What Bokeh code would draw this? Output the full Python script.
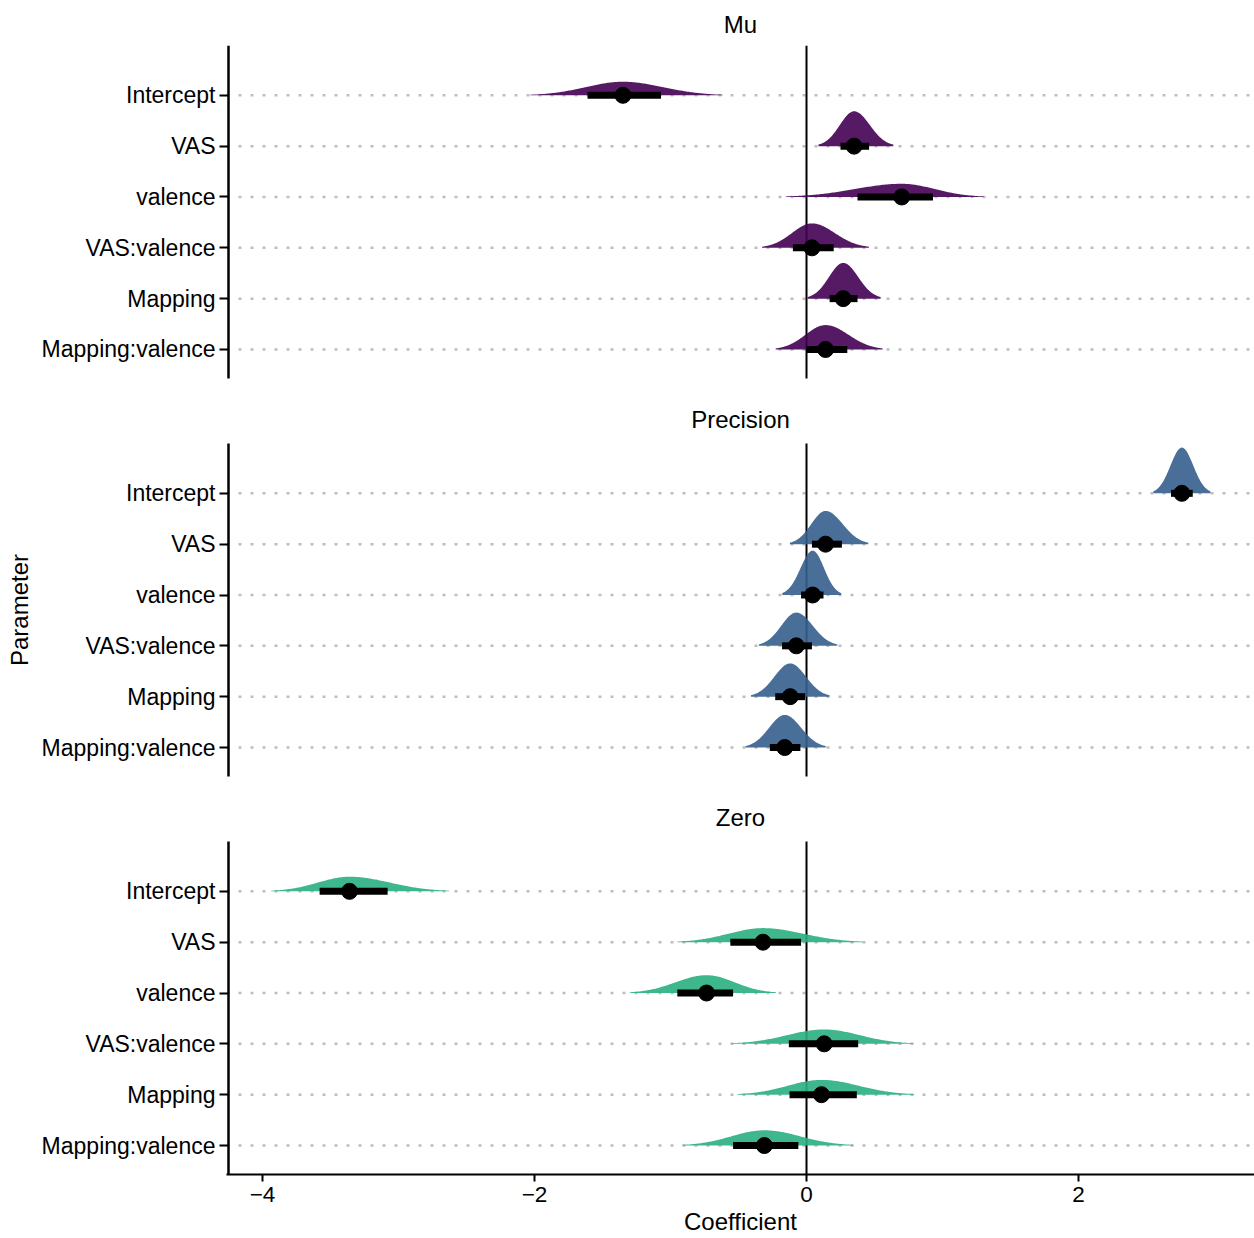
import numpy as np
from bokeh.plotting import figure
from bokeh.models import Range1d, FixedTicker
from bokeh.embed import file_html
from bokeh.resources import INLINE
from bokeh.core.properties import value

# Model components (facets) and regression terms (rows)
components = ["Mu", "Precision", "Zero"]
parameters = ["Intercept", "VAS", "valence", "VAS:valence", "Mapping", "Mapping:valence"]
component_colors = ["#440154", "#355F8D", "#29AF7F"]

# Posterior medians with 66% intervals, one list per component
mu_median = [-1.35, 0.35, 0.70, 0.04, 0.27, 0.14]
mu_lower = [-1.61, 0.25, 0.375, -0.10, 0.17, 0.00]
mu_upper = [-1.07, 0.46, 0.93, 0.20, 0.375, 0.30]

prec_median = [2.76, 0.14, 0.045, -0.075, -0.12, -0.16]
prec_lower = [2.68, 0.04, -0.04, -0.18, -0.23, -0.27]
prec_upper = [2.84, 0.26, 0.125, 0.04, -0.01, -0.045]

zero_median = [-3.36, -0.32, -0.735, 0.13, 0.11, -0.31]
zero_lower = [-3.58, -0.56, -0.95, -0.13, -0.125, -0.54]
zero_upper = [-3.08, -0.04, -0.54, 0.38, 0.37, -0.06]

x_ticks = [-4, -2, 0, 2]

medians = [mu_median, prec_median, zero_median]
lowers = [mu_lower, prec_lower, zero_lower]
uppers = [mu_upper, prec_upper, zero_upper]

# Vertical layout in hundredths of a row
ROW = 100
PANEL = 655
GAP = 128
STEP = PANEL + GAP
TOTAL = 2 * STEP + PANEL
TITLE_OFFSET = 47   # facet title sits this far above its panel

X0, X1 = -4.2647, 3.294
FONT = "Liberation Sans"

p = figure(width=1254, height=1238, output_backend="svg", toolbar_location=None,
           x_range=Range1d(X0, X1), y_range=Range1d(0, TOTAL),
           min_border_left=226, min_border_right=0, min_border_top=45, min_border_bottom=64)
p.outline_line_color = None
p.background_fill_color = "white"
p.border_fill_color = "white"
p.xgrid.visible = False
p.ygrid.visible = False

Z66 = 0.954   # half-width of a 66% normal interval in sd units
TAIL = 2.5    # density drawn out to this many sd either side

rows_y, tick_labels = [], {}
dens_xs, dens_ys, dens_col = [], [], []
bar_x0, bar_x1, bar_y, pt_x, pt_y = [], [], [], [], []
peaks, shapes = [], []

for k, comp in enumerate(components):
    base = (2 - k) * STEP
    for r, name in enumerate(parameters):
        y = base + 57 + ROW * (5 - r)
        rows_y.append(y)
        tick_labels[y] = name
        med, lo, hi = medians[k][r], lowers[k][r], uppers[k][r]
        sd_l = (med - lo) / Z66
        sd_r = (hi - med) / Z66
        peaks.append(2.0 / (sd_l + sd_r))
        shapes.append((y, med, sd_l, sd_r, component_colors[k]))
        bar_x0.append(lo); bar_x1.append(hi); bar_y.append(y)
        pt_x.append(med); pt_y.append(y)

max_peak = max(peaks)
for (y, med, sd_l, sd_r, col), pk in zip(shapes, peaks):
    h = 0.9 * ROW * pk / max_peak
    xl = np.linspace(med - TAIL * sd_l, med, 80)
    xr = np.linspace(med, med + TAIL * sd_r, 80)[1:]
    dl = np.exp(-0.5 * ((xl - med) / sd_l) ** 2)
    dr = np.exp(-0.5 * ((xr - med) / sd_r) ** 2)
    xs = np.concatenate([xl, xr])
    ys = y + h * np.concatenate([dl, dr])
    dens_xs.append(list(xs) + [xs[-1], xs[0]])
    dens_ys.append(list(ys) + [y, y])
    dens_col.append(col)

# dotted guide lines for each term
p.segment(x0=[X0] * len(rows_y), x1=[X1] * len(rows_y), y0=rows_y, y1=rows_y,
          line_color="#BEBEBE", line_width=2.5, line_dash="3 9", line_cap="butt")

# zero reference line and left axis line, one segment per panel
bases = [(2 - k) * STEP for k in range(3)]
p.segment(x0=[0] * 3, x1=[0] * 3, y0=bases, y1=[b + PANEL for b in bases],
          line_color="black", line_width=2)
p.segment(x0=[-4.25] * 3, x1=[-4.25] * 3, y0=bases, y1=[b + PANEL for b in bases],
          line_color="black", line_width=2.5)

# half-eye densities
p.patches(xs=dens_xs, ys=dens_ys, fill_color=dens_col, fill_alpha=0.9, line_color=None)

# 66% intervals and medians
p.segment(x0=bar_x0, x1=bar_x1, y0=bar_y, y1=bar_y, line_color="black",
          line_width=7, line_cap="butt")
p.scatter(x=pt_x, y=pt_y, size=16, color="black")

# facet titles: the top one as the figure title, the others inside the frame
mid = (X0 + X1) / 2
p.title.text = components[0]
p.title.align = "center"
p.title.text_font = FONT
p.title.text_font_size = "24px"
p.title.text_font_style = "normal"
p.title.text_color = "black"
p.title.standoff = 15
p.text(x=[mid, mid], y=[bases[1] + PANEL + TITLE_OFFSET, bases[2] + PANEL + TITLE_OFFSET],
       text=components[1:], text_align="center", text_baseline="middle",
       text_font=value(FONT), text_font_size="24px", text_color="black")

# axes
xa = p.xaxis[0]
xa.ticker = FixedTicker(ticks=x_ticks)
xa.major_label_overrides = {t: (str(t).replace("-", "\u2212")) for t in x_ticks}
xa.axis_label = "Coefficient"
xa.axis_line_width = 2
xa.major_tick_line_width = 2
xa.major_tick_out = 7
xa.major_tick_in = 0
xa.minor_tick_out = 0
xa.minor_tick_in = 0
xa.major_label_standoff = 5
xa.axis_label_standoff = 3
xa.major_label_text_font = FONT
xa.major_label_text_font_size = "22.5px"
xa.major_label_text_color = "black"
xa.axis_label_text_font = FONT
xa.axis_label_text_font_size = "24px"
xa.axis_label_text_font_style = "normal"
xa.axis_label_text_color = "black"

ya = p.yaxis[0]
ya.ticker = FixedTicker(ticks=rows_y)
ya.major_label_overrides = tick_labels
ya.axis_line_color = None
ya.axis_label = "Parameter"
ya.major_tick_line_width = 2
ya.major_tick_out = 7
ya.major_tick_in = 2
ya.minor_tick_out = 0
ya.minor_tick_in = 0
ya.major_label_standoff = 4
ya.axis_label_standoff = 6
ya.major_label_text_font = FONT
ya.major_label_text_font_size = "23px"
ya.major_label_text_color = "black"
ya.axis_label_text_font = FONT
ya.axis_label_text_font_size = "24px"
ya.axis_label_text_font_style = "normal"
ya.axis_label_text_color = "black"

open("out.html", "w").write(file_html(p, INLINE))
